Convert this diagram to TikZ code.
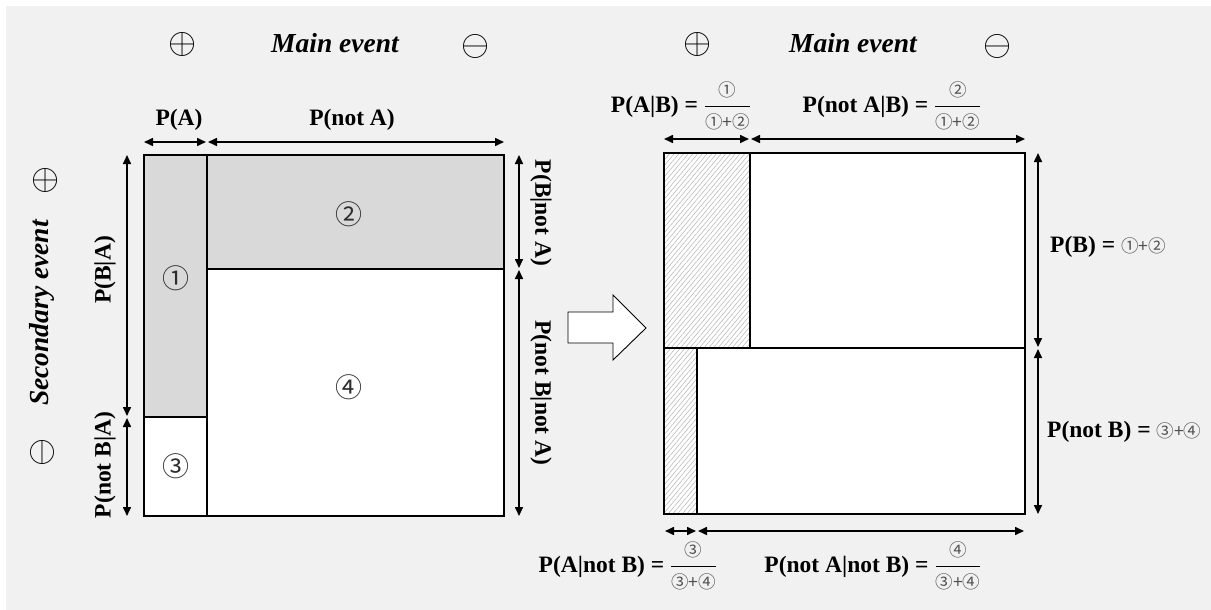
\RequirePackage{fix-cm}
\documentclass[tikz,border=0pt]{standalone}
\usepackage{fontspec}
\usepackage{graphicx}
\setmainfont{Liberation Serif}
\newfontfamily\circf{Noto Sans CJK JP}
\usetikzlibrary{arrows.meta,patterns.meta}

\definecolor{bggray}{HTML}{F1F1F1}
\definecolor{cellgray}{HTML}{D9D9D9}
\definecolor{hatchgray}{HTML}{B8B8B8}
\definecolor{digitgray}{HTML}{2E2E2E}
\definecolor{smallgray}{HTML}{505050}

\newcommand\lbl{\fontsize{23.5}{26}\selectfont\bfseries}
\newcommand\ttl{\fontsize{27.5}{30}\selectfont\bfseries\itshape}
\newcommand\bigdigit[1]{{\circf\mdseries\fontsize{27}{27}\selectfont\color{digitgray}#1}}
\newcommand\smdigit[1]{{\circf\mdseries\fontsize{17.5}{17.5}\selectfont\color{smallgray}#1}}
\newcommand\sgn[1]{\scalebox{1.45}{\fontsize{24.88}{26}\selectfont$#1$}}
\newcommand\ratio[2]{$\displaystyle{\hbox{\smdigit{#1}}\above1.5pt\hbox{\smdigit{#2}}}$}

\begin{document}
\begin{tikzpicture}[x=1pt,y=-1pt,
  boxline/.style={line width=2.6pt,line cap=rect},
  dimarrow/.style={line width=1.6pt,
    {Triangle[length=9pt,width=8pt]}-{Triangle[length=9pt,width=8pt]}},
  txt/.style={inner sep=0pt,font=\lbl},
  hatched/.style={pattern={Lines[angle=50,distance=3.6pt,line width=0.55pt]},
    pattern color=hatchgray}]

\useasboundingbox (0,0) rectangle (1211,610);
\fill[white] (0,0) rectangle (1211,610);
\fill[bggray] (6,6) rectangle (1211,610);

% ---------------- left square: joint split ----------------
\coordinate (LA) at (144,155);
\coordinate (LB) at (504,516);
\fill[cellgray] (144,155) rectangle (207,417);
\fill[cellgray] (207,155) rectangle (504,269);
\fill[white] (144,417) rectangle (207,516);
\fill[white] (207,269) rectangle (504,516);
\draw[boxline] (LA) rectangle (LB);
\draw[boxline] (207,155) -- (207,516);
\draw[boxline] (144,417) -- (207,417);
\draw[boxline] (207,269) -- (504,269);

\node (c1) at (176,278) {\bigdigit{①}};
\node (c2) at (349,214) {\bigdigit{②}};
\node (c3) at (176,466) {\bigdigit{③}};
\node (c4) at (349,387) {\bigdigit{④}};

% dimension arrows, left square
\coordinate (lt0) at (144,142); \coordinate (lt1) at (206,142);
\coordinate (lt2) at (208,142); \coordinate (lt3) at (504,142);
\draw[dimarrow] (lt0) -- (lt1);
\draw[dimarrow] (lt2) -- (lt3);
\coordinate (ll0) at (127,155); \coordinate (ll1) at (127,416);
\coordinate (ll2) at (127,418); \coordinate (ll3) at (127,516);
\draw[dimarrow] (ll0) -- (ll1);
\draw[dimarrow] (ll2) -- (ll3);
\coordinate (lr0) at (519,155); \coordinate (lr1) at (519,268);
\coordinate (lr2) at (519,270); \coordinate (lr3) at (519,516);
\draw[dimarrow] (lr0) -- (lr1);
\draw[dimarrow] (lr2) -- (lr3);

\node[txt] (pA) at (179,120) {P(A)};
\node[txt] (pnA) at (352,120) {P(not A)};
\node[txt,rotate=90] (pBA) at (105,270) {P(B|A)};
\node[txt,rotate=90] (pnBA) at (105,465) {P(not B|A)};
\node[txt,rotate=-90] (pBnA) at (541,213) {P(B|not A)};
\node[txt,rotate=-90] (pnBnA) at (541,393) {P(not B|not A)};

% headings
\node (plusL) at (183,44) {\sgn{\oplus}};
\node[inner sep=0pt,font=\ttl] (mainL) at (335,43) {Main event};
\node (minusL) at (476,46) {\sgn{\ominus}};
\node (plusS) at (46,180) {\sgn{\oplus}};
\node[inner sep=0pt,font=\ttl,rotate=90] (sec) at (42,313) {Secondary event};
\node[rotate=90] (minusS) at (42,452) {\sgn{\ominus}};

% ---------------- block arrow ----------------
\draw[line width=0.9pt,fill=white,line join=miter]
  (568,312) -- (613,312) -- (613,295) -- (646,328) -- (613,360)
  -- (613,343) -- (568,343) -- cycle;

% ---------------- right square: conditional split ----------------
\coordinate (RA) at (664,153);
\coordinate (RB) at (1025,514);
\fill[white] (RA) rectangle (RB);
\fill[hatched] (664,153) rectangle (750,348);
\fill[hatched] (664,348) rectangle (697,514);
\draw[boxline] (RA) rectangle (RB);
\draw[boxline] (750,153) -- (750,348);
\draw[boxline] (664,348) -- (1025,348);
\draw[boxline] (697,348) -- (697,514);

% dimension arrows, right square
\coordinate (rt0) at (664,139); \coordinate (rt1) at (749,139);
\coordinate (rt2) at (751,139); \coordinate (rt3) at (1025,139);
\draw[dimarrow] (rt0) -- (rt1);
\draw[dimarrow] (rt2) -- (rt3);
\coordinate (rr0) at (1038,153); \coordinate (rr1) at (1038,347);
\coordinate (rr2) at (1038,349); \coordinate (rr3) at (1038,514);
\draw[dimarrow] (rr0) -- (rr1);
\draw[dimarrow] (rr2) -- (rr3);
\coordinate (rb0) at (665,531); \coordinate (rb1) at (696,531);
\coordinate (rb2) at (698,531); \coordinate (rb3) at (1024,531);
\draw[dimarrow] (rb0) -- (rb1);
\draw[dimarrow] (rb2) -- (rb3);

\node[txt] (pAB) at (681,106) {P(A|B) = \ratio{①}{①+②}};
\node[txt] (pnAB) at (892,106) {P(not A|B) = \ratio{②}{①+②}};
\node[txt] (pAnB) at (628,566) {P(A|not B) = \ratio{③}{③+④}};
\node[txt] (pnAnB) at (873,566) {P(not A|not B) = \ratio{④}{③+④}};
\node[txt,anchor=west] (pB) at (1050,247) {P(B) = \smdigit{①+②}};
\node[txt,anchor=west] (pnB) at (1047,432) {P(not B) = \smdigit{③+④}};

\node (plusR) at (698,44) {\sgn{\oplus}};
\node[inner sep=0pt,font=\ttl] (mainR) at (853,43) {Main event};
\node (minusR) at (998,46) {\sgn{\ominus}};
\end{tikzpicture}
\end{document}
